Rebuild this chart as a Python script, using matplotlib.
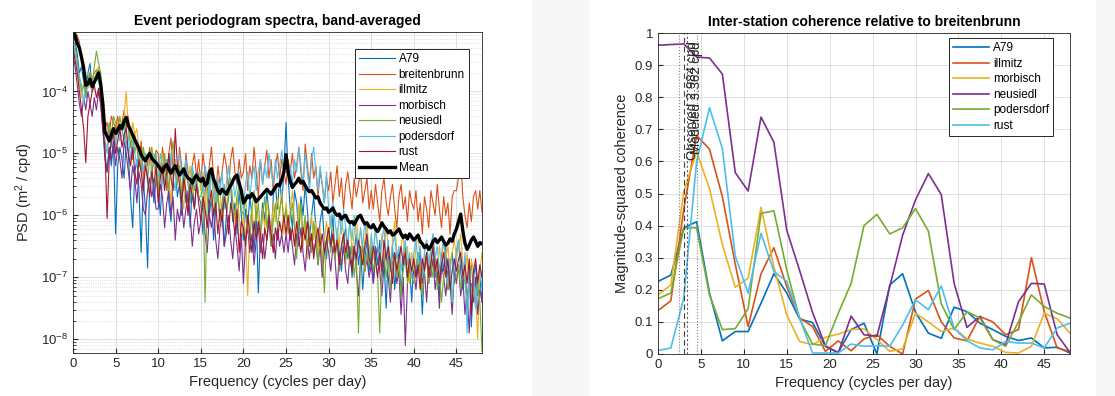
import numpy as np
import matplotlib.pyplot as plt
from matplotlib.patches import Rectangle
from matplotlib.ticker import FixedLocator, LogLocator, NullFormatter

plt.rcParams['font.family'] = ['Liberation Sans', 'DejaVu Sans']
plt.rcParams['mathtext.default'] = 'regular'

# ---- left panel: band-averaged periodogram spectra (log10 PSD, every 0.25 cpd) ----
psd_freq = np.arange(193) * 0.25

a79_log = [
    -3.05, -3.20, -3.40, -3.70, -3.60, -3.85, -4.10, -3.70, -3.55, -4.00, -3.90, -3.75, -3.65, -4.10, -4.60, -5.10, -5.30, -4.90, -5.20, -4.80,
    -6.30, -5.20, -4.90, -5.10, -5.40, -4.80, -5.00, -5.70, -6.20, -5.30, -5.10, -5.60, -6.60, -5.40, -5.90, -6.85, -5.50, -5.20, -5.80, -5.40,
    -5.60, -6.00, -5.30, -5.50, -5.10, -5.80, -6.10, -5.40, -5.20, -5.70, -5.50, -6.00, -5.30, -5.80, -5.60, -6.20, -5.50, -5.90, -5.40, -5.70,
    -5.80, -6.30, -5.60, -5.40, -6.00, -5.70, -6.40, -5.90, -5.60, -6.10, -5.80, -6.50, -6.00, -5.70, -5.50, -6.10, -5.80, -6.30, -5.60, -6.00,
    -6.40, -5.90, -6.20, -5.70, -6.00, -6.60, -5.90, -7.25, -6.30, -5.80, -6.10, -5.60, -6.00, -6.40, -5.70, -5.50, -5.90, -5.40, -5.80, -5.30,
    -4.50, -5.40, -5.90, -6.20, -5.60, -5.80, -6.30, -5.70, -6.00, -5.50, -5.90, -6.40, -6.00, -5.70, -6.20, -6.50, -6.10, -5.90, -6.40, -6.70,
    -6.20, -6.50, -6.00, -6.70, -6.30, -6.60, -6.90, -6.40, -6.20, -6.70, -6.50, -7.00, -6.60, -6.30, -6.80, -6.50, -7.20, -6.70, -6.40, -6.90,
    -6.60, -7.10, -6.50, -6.80, -6.40, -7.00, -6.70, -7.50, -6.60, -6.90, -6.50, -7.20, -6.80, -6.60, -7.30, -6.70, -6.50, -7.00, -6.80, -7.40,
    -6.70, -7.00, -6.60, -6.90, -7.60, -6.80, -6.60, -7.10, -6.70, -6.50, -7.00, -6.80, -7.30, -6.60, -6.90, -6.50, -7.20, -6.80, -6.60, -7.10,
    -6.60, -6.40, -6.90, -7.20, -6.70, -7.50, -6.90, -7.80, -7.00, -6.80, -7.30, -7.00, -7.40]
breitenbrunn_log = [
    -3.00, -3.05, -3.10, -3.20, -3.50, -3.70, -4.00, -3.90, -3.70, -3.80, -3.70, -3.65, -3.75, -3.90, -4.30, -4.60, -4.50, -4.70, -4.40, -4.50,
    -4.60, -4.40, -4.70, -4.50, -4.30, -4.60, -4.40, -4.80, -5.10, -4.70, -4.90, -5.20, -4.80, -5.40, -5.00, -5.20, -4.90, -5.30, -5.10, -4.95,
    -5.00, -5.40, -4.90, -5.20, -5.60, -5.00, -4.75, -5.30, -5.10, -5.50, -4.90, -5.20, -5.60, -5.00, -5.30, -5.70, -5.20, -5.00, -5.40, -5.10,
    -5.50, -5.00, -5.30, -5.60, -5.20, -4.90, -5.40, -5.70, -5.20, -5.50, -5.30, -5.00, -5.20, -5.60, -5.10, -4.90, -5.30, -5.50, -5.10, -5.40,
    -5.30, -5.00, -5.60, -5.20, -5.40, -4.90, -5.30, -5.70, -5.10, -5.50, -5.20, -4.95, -5.40, -5.10, -5.60, -5.20, -5.00, -5.40, -5.10, -5.30,
    -5.50, -5.10, -5.30, -5.00, -5.40, -5.20, -4.90, -5.30, -5.60, -4.85, -5.20, -5.50, -5.00, -5.40, -5.20, -5.70, -5.30, -5.50, -5.80, -5.40,
    -5.60, -5.30, -5.80, -5.50, -5.20, -5.70, -5.40, -5.90, -5.50, -5.30, -5.60, -5.90, -5.40, -5.70, -5.50, -5.30, -5.80, -5.60, -5.40, -5.90,
    -5.60, -5.90, -5.50, -5.80, -6.10, -5.60, -5.40, -5.80, -6.00, -5.70, -5.50, -5.90, -6.20, -5.70, -5.50, -5.90, -5.70, -6.10, -5.60, -5.80,
    -5.90, -5.60, -6.10, -5.80, -6.30, -5.70, -5.90, -6.20, -5.60, -5.80, -6.00, -5.50, -5.90, -6.20, -5.70, -6.00, -5.80, -6.30, -5.70, -5.60,
    -5.60, -5.40, -5.10, -5.70, -6.00, -6.20, -5.80, -6.10, -5.70, -5.60, -5.90, -5.60, -5.95]
illmitz_log = [
    -3.25, -3.40, -3.60, -3.90, -4.10, -3.85, -3.70, -3.95, -3.90, -3.75, -3.80, -3.70, -3.60, -3.85, -4.30, -4.80, -4.90, -4.70, -4.80, -4.60,
    -4.80, -4.50, -4.70, -4.55, -4.40, -4.00, -4.60, -4.80, -4.50, -4.70, -4.60, -5.00, -5.20, -4.90, -5.10, -5.30, -5.60, -5.00, -5.20, -5.40,
    -5.70, -5.20, -5.00, -5.40, -5.10, -5.30, -5.80, -5.30, -5.10, -5.50, -5.20, -5.60, -5.90, -5.30, -5.50, -5.20, -5.70, -5.40, -5.60, -5.30,
    -5.60, -5.30, -5.90, -5.50, -5.40, -5.70, -6.00, -5.60, -5.80, -5.50, -6.20, -5.70, -5.90, -5.60, -5.40, -5.80, -6.10, -5.70, -6.00, -6.40,
    -6.00, -6.30, -7.30, -6.10, -5.90, -6.30, -5.80, -6.10, -6.40, -5.90, -6.20, -5.80, -6.00, -6.40, -5.80, -6.10, -5.70, -6.00, -5.60, -6.30,
    -5.80, -6.20, -5.90, -5.60, -6.10, -6.40, -5.80, -6.00, -6.50, -6.10, -6.70, -6.20, -6.00, -6.40, -6.10, -6.60, -6.20, -6.90, -6.40, -6.10,
    -6.40, -6.00, -6.30, -6.70, -6.20, -6.50, -6.00, -6.30, -6.80, -6.40, -6.10, -6.60, -6.30, -6.00, -6.50, -6.20, -6.70, -6.40, -6.10, -6.60,
    -6.40, -6.70, -6.20, -6.50, -6.90, -6.30, -6.60, -6.20, -6.50, -6.80, -6.40, -6.10, -6.60, -7.00, -6.50, -6.30, -6.80, -6.50, -7.10, -6.60,
    -6.90, -6.50, -6.30, -6.80, -7.20, -6.60, -6.40, -6.90, -6.60, -6.30, -6.70, -7.00, -6.50, -6.80, -6.40, -6.70, -6.50, -6.90, -6.60, -6.40,
    -6.70, -6.50, -6.30, -6.80, -7.00, -6.60, -7.20, -6.70, -6.90, -7.30, -8.00, -6.90, -6.60]
morbisch_log = [
    -3.40, -3.60, -3.90, -4.20, -4.40, -4.10, -4.30, -4.00, -4.20, -4.40, -4.10, -4.30, -4.00, -4.20, -4.60, -5.00, -5.30, -4.90, -5.10, -4.80,
    -5.20, -4.90, -5.10, -5.40, -4.80, -5.00, -5.30, -5.60, -5.20, -5.40, -5.80, -5.30, -5.50, -5.90, -6.00, -5.60, -5.40, -5.70, -5.50, -5.90,
    -5.90, -5.50, -5.70, -6.20, -5.80, -5.60, -6.00, -5.70, -6.40, -5.90, -6.10, -5.80, -6.20, -5.90, -5.70, -6.00, -6.50, -6.10, -5.90, -6.30,
    -6.10, -5.80, -6.30, -6.60, -6.00, -6.20, -5.90, -6.40, -6.70, -6.20, -6.00, -6.50, -6.30, -6.00, -6.40, -6.70, -6.20, -6.50, -6.90, -6.30,
    -7.10, -6.40, -6.20, -6.60, -6.30, -6.80, -6.40, -6.20, -6.60, -6.30, -6.70, -6.40, -6.10, -6.50, -6.30, -6.70, -6.20, -6.50, -6.30, -6.60,
    -6.30, -6.60, -6.20, -6.50, -6.80, -6.30, -6.50, -6.20, -6.60, -6.90, -6.40, -6.70, -6.30, -6.60, -6.40, -6.80, -6.50, -7.00, -6.60, -6.40,
    -6.60, -6.90, -6.50, -6.70, -7.20, -6.60, -6.80, -6.50, -6.90, -7.10, -6.60, -6.80, -6.50, -6.90, -7.30, -6.70, -6.50, -6.90, -6.70, -7.00,
    -6.80, -7.10, -6.70, -6.50, -6.90, -7.30, -6.80, -6.60, -7.00, -7.40, -6.80, -6.60, -7.10, -6.90, -7.60, -7.00, -8.10, -7.10, -6.80, -7.00,
    -6.90, -7.20, -6.80, -6.60, -7.10, -6.90, -7.40, -6.80, -7.00, -6.70, -7.20, -6.90, -7.50, -6.80, -7.00, -7.30, -6.90, -7.10, -7.60, -6.90,
    -7.10, -6.80, -7.30, -7.00, -7.60, -7.20, -7.90, -7.10, -7.40, -7.00, -7.60, -7.20, -7.40]
neusiedl_log = [
    -3.20, -3.30, -3.50, -3.80, -4.00, -3.90, -4.10, -3.80, -3.70, -3.90, -3.60, -3.35, -3.55, -3.70, -4.20, -4.60, -4.75, -4.50, -4.70, -4.40,
    -4.50, -4.70, -4.40, -4.60, -4.80, -4.45, -4.60, -4.90, -4.70, -5.00, -4.80, -5.10, -5.30, -4.90, -5.20, -5.40, -5.10, -4.90, -5.20, -5.00,
    -5.60, -5.20, -5.40, -5.00, -5.30, -5.60, -5.10, -4.80, -5.30, -5.50, -5.20, -5.70, -5.40, -5.10, -5.50, -5.80, -5.30, -5.60, -5.40, -5.70,
    -5.70, -5.50, -7.40, -5.80, -5.50, -5.30, -5.70, -5.90, -5.60, -6.10, -5.80, -5.50, -5.90, -5.70, -5.40, -5.80, -6.00, -5.70, -5.50, -5.90,
    -6.00, -5.70, -6.20, -6.40, -5.90, -5.60, -6.10, -5.80, -6.30, -6.00, -5.70, -6.20, -5.90, -6.50, -6.10, -5.80, -6.20, -5.90, -5.70, -6.10,
    -5.90, -6.30, -6.00, -5.80, -6.20, -6.70, -6.10, -5.80, -6.30, -6.00, -6.50, -6.20, -6.60, -6.10, -6.40, -6.80, -6.30, -6.60, -7.25, -6.40,
    -6.20, -6.60, -6.30, -6.70, -6.40, -6.90, -6.50, -6.30, -6.70, -6.40, -6.80, -6.50, -7.00, -6.60, -7.90, -6.70, -6.50, -6.90, -6.60, -6.80,
    -6.50, -6.90, -6.70, -7.00, -7.90, -6.80, -6.60, -7.00, -6.70, -7.20, -6.80, -6.60, -7.00, -6.80, -7.30, -6.90, -6.70, -7.10, -6.80, -7.00,
    -7.10, -6.80, -6.60, -7.00, -7.30, -6.90, -6.70, -7.10, -6.80, -7.00, -6.60, -7.20, -6.90, -7.40, -7.00, -6.80, -7.20, -6.90, -7.40, -7.00,
    -7.00, -6.80, -7.20, -6.90, -7.10, -7.40, -7.00, -6.80, -7.20, -7.50, -7.10, -7.40, -8.20]
podersdorf_log = [
    -3.20, -3.40, -3.60, -3.75, -3.90, -4.20, -3.80, -3.70, -3.90, -4.00, -3.80, -3.70, -3.85, -4.00, -4.40, -4.80, -5.00, -4.70, -4.90, -4.60,
    -4.90, -4.60, -4.80, -4.70, -4.50, -4.90, -4.70, -5.10, -4.80, -5.00, -5.20, -4.90, -5.10, -5.30, -5.00, -5.50, -5.60, -5.20, -5.00, -5.30,
    -5.40, -5.00, -5.20, -5.50, -5.10, -5.30, -5.00, -5.40, -5.60, -5.20, -5.00, -5.30, -5.50, -5.10, -5.40, -5.70, -5.20, -5.40, -5.60, -5.30,
    -5.30, -5.60, -5.20, -5.40, -5.70, -5.30, -5.50, -5.80, -5.40, -5.60, -5.30, -5.90, -5.50, -5.20, -5.60, -5.40, -5.70, -5.50, -5.30, -5.70,
    -5.90, -5.50, -5.30, -5.70, -5.40, -5.20, -5.60, -5.30, -5.10, -5.50, -5.20, -5.40, -5.00, -5.30, -5.50, -5.10, -5.40, -5.20, -4.95, -5.30,
    -5.00, -5.40, -5.20, -5.50, -5.10, -5.30, -4.90, -5.20, -5.50, -5.00, -5.30, -5.60, -5.10, -4.90, -5.30, -5.60, -5.20, -5.50, -5.80, -5.30,
    -5.90, -6.20, -5.80, -6.10, -6.40, -6.00, -6.30, -5.90, -6.20, -6.50, -6.10, -6.40, -6.00, -6.30, -6.60, -6.20, -6.50, -6.10, -6.40, -6.70,
    -6.30, -6.60, -6.20, -6.50, -6.80, -6.40, -6.20, -6.70, -6.40, -6.90, -6.50, -6.30, -6.70, -6.50, -6.90, -6.60, -6.40, -6.80, -6.60, -7.00,
    -6.60, -6.40, -6.80, -6.50, -7.00, -6.60, -6.40, -6.80, -6.50, -6.30, -6.70, -6.50, -6.90, -6.60, -6.40, -6.80, -7.10, -6.70, -7.40, -6.80,
    -6.60, -6.40, -6.70, -7.00, -6.60, -7.90, -6.80, -7.30, -6.90, -7.50, -7.00, -6.80, -7.20]
rust_log = [
    -3.30, -3.50, -3.70, -4.00, -4.30, -4.60, -5.15, -4.40, -4.20, -4.00, -3.90, -4.10, -3.95, -4.20, -4.60, -4.90, -6.05, -5.10, -4.80, -4.70,
    -5.00, -4.80, -4.60, -4.90, -4.70, -4.60, -5.00, -5.20, -4.90, -5.30, -5.50, -5.10, -5.30, -5.60, -5.20, -5.40, -5.70, -5.30, -5.50, -5.20,
    -5.80, -5.40, -5.20, -5.60, -5.30, -5.00, -5.40, -5.60, -4.60, -5.20, -5.50, -5.80, -5.40, -5.60, -6.00, -5.50, -5.70, -5.90, -5.50, -5.80,
    -6.10, -5.70, -5.90, -6.20, -5.80, -5.60, -6.00, -5.80, -6.30, -5.90, -6.10, -5.70, -5.90, -6.30, -5.80, -6.00, -6.30, -5.90, -6.60, -6.10,
    -6.20, -6.50, -6.00, -6.30, -6.60, -6.10, -6.40, -6.10, -6.30, -6.70, -6.20, -6.40, -6.00, -6.30, -6.60, -6.20, -6.40, -6.10, -6.30, -6.00,
    -6.30, -6.00, -6.40, -6.20, -6.50, -6.10, -6.40, -6.60, -6.20, -6.40, -6.10, -6.50, -6.30, -6.70, -6.40, -6.20, -6.50, -6.30, -6.60, -6.40,
    -6.20, -6.50, -6.30, -6.60, -6.40, -6.80, -6.50, -6.30, -6.60, -6.40, -6.70, -6.90, -6.50, -6.70, -6.40, -6.60, -6.80, -6.50, -6.30, -6.70,
    -6.80, -6.50, -6.70, -7.00, -6.60, -6.90, -6.40, -6.70, -6.50, -6.80, -7.10, -6.60, -6.90, -6.70, -6.50, -6.80, -6.60, -7.00, -6.70, -6.90,
    -6.70, -7.00, -6.80, -7.20, -6.70, -6.90, -6.60, -7.00, -6.80, -6.50, -6.90, -6.70, -7.10, -6.80, -6.60, -7.00, -6.70, -7.20, -6.90, -6.70,
    -6.90, -6.70, -6.60, -7.00, -6.80, -7.10, -6.70, -7.60, -6.90, -6.70, -7.10, -6.80, -7.00]
mean_log = [
    -3.04, -3.10, -3.22, -3.30, -3.45, -3.62, -3.90, -3.88, -3.80, -3.92, -3.85, -3.78, -3.70, -3.88, -4.20, -4.65, -4.72, -4.80, -4.70, -4.60,
    -4.68, -4.62, -4.55, -4.60, -4.48, -4.42, -4.55, -4.62, -4.70, -4.78, -4.85, -4.92, -5.02, -5.08, -5.12, -5.05, -5.00, -5.08, -5.12, -5.15,
    -5.20, -5.25, -5.30, -5.22, -5.18, -5.26, -5.32, -5.25, -5.20, -5.28, -5.35, -5.30, -5.25, -5.35, -5.40, -5.42, -5.48, -5.40, -5.35, -5.42,
    -5.45, -5.40, -5.52, -5.48, -5.30, -5.25, -5.42, -5.50, -5.60, -5.65, -5.58, -5.62, -5.66, -5.58, -5.52, -5.45, -5.38, -5.35, -5.48, -5.60,
    -5.80, -5.75, -5.68, -5.72, -5.65, -5.70, -5.78, -5.74, -5.70, -5.66, -5.62, -5.58, -5.62, -5.66, -5.60, -5.55, -5.50, -5.52, -5.42, -5.30,
    -5.02, -5.30, -5.45, -5.55, -5.50, -5.46, -5.40, -5.48, -5.45, -5.52, -5.58, -5.62, -5.60, -5.66, -5.72, -5.70, -5.80, -5.85, -5.90, -5.88,
    -5.95, -5.92, -5.88, -5.96, -6.00, -5.98, -6.06, -6.02, -6.00, -6.08, -6.12, -6.10, -6.15, -6.08, -6.02, -6.00, -6.08, -6.14, -6.12, -6.18,
    -6.20, -6.15, -6.22, -6.26, -6.20, -6.12, -6.18, -6.22, -6.28, -6.25, -6.32, -6.30, -6.26, -6.22, -6.30, -6.36, -6.32, -6.38, -6.30, -6.35,
    -6.40, -6.36, -6.32, -6.42, -6.46, -6.52, -6.48, -6.55, -6.50, -6.42, -6.38, -6.44, -6.40, -6.35, -6.42, -6.48, -6.45, -6.38, -6.42, -6.30,
    -6.22, -6.10, -5.98, -6.25, -6.45, -6.55, -6.48, -6.40, -6.35, -6.42, -6.50, -6.44, -6.46]

psd_names = ['A79', 'breitenbrunn', 'illmitz', 'morbisch', 'neusiedl', 'podersdorf', 'rust']
psd_series = [a79_log, breitenbrunn_log, illmitz_log, morbisch_log,
              neusiedl_log, podersdorf_log, rust_log]

# ---- right panel: coherence vs breitenbrunn (every 1.5 cpd) ----
coh_freq = [0, 1.5, 3, 4.5, 6, 7.5, 9, 10.5, 12, 13.5, 15, 16.5, 18, 19.5, 21, 22.5,
            24, 25.5, 27, 28.5, 30, 31.5, 33, 34.5, 36, 37.5, 39, 40.5, 42, 43.5,
            45, 46.5, 48]
coh_a79 = [0.226, 0.246, 0.393, 0.412, 0.19, 0.041, 0.070, 0.070, 0.158, 0.25, 0.19,
           0.109, 0.098, 0.024, 0.005, 0.076, 0.096, 0.0, 0.215, 0.25, 0.13, 0.065,
           0.049, 0.146, 0.132, 0.096, 0.076, 0.055, 0.042, 0.05, 0.019, 0.021, 0.003]
coh_illmitz = [0.135, 0.166, 0.45, 0.681, 0.638, 0.49, 0.28, 0.085, 0.25, 0.331, 0.21,
               0.112, 0.086, 0.008, 0.041, 0.01, 0.047, 0.06, 0.024, 0.0, 0.171, 0.198,
               0.10, 0.05, 0.041, 0.117, 0.10, 0.06, 0.076, 0.30, 0.132, 0.019, 0.008]
coh_morbisch = [0.184, 0.215, 0.505, 0.63, 0.515, 0.34, 0.208, 0.236, 0.457, 0.272,
                0.122, 0.039, 0.029, 0.052, 0.062, 0.076, 0.078, 0.045, 0.008, 0.016,
                0.127, 0.10, 0.07, 0.081, 0.047, 0.034, 0.024, 0.005, 0.003, 0.024,
                0.127, 0.11, 0.065]
coh_neusiedl = [0.962, 0.964, 0.966, 0.925, 0.922, 0.872, 0.565, 0.508, 0.738, 0.660,
                0.386, 0.26, 0.13, 0.025, 0.003, 0.118, 0.06, 0.055, 0.21, 0.37, 0.48,
                0.562, 0.497, 0.22, 0.083, 0.117, 0.045, 0.029, 0.163, 0.22, 0.218,
                0.06, 0.005]
coh_podersdorf = [0.172, 0.19, 0.393, 0.393, 0.184, 0.076, 0.079, 0.141, 0.438, 0.446,
                  0.262, 0.109, 0.031, 0.026, 0.127, 0.22, 0.40, 0.435, 0.374, 0.393,
                  0.453, 0.383, 0.156, 0.076, 0.132, 0.112, 0.045, 0.024, 0.10, 0.184,
                  0.148, 0.127, 0.112]
coh_rust = [0.011, 0.019, 0.174, 0.60, 0.767, 0.64, 0.305, 0.19, 0.376, 0.257, 0.226,
            0.112, 0.003, 0.003, 0.003, 0.031, 0.024, 0.026, 0.024, 0.09, 0.169, 0.138,
            0.212, 0.081, 0.041, 0.019, 0.013, 0.039, 0.034, 0.034, 0.019, 0.081, 0.096]
coh_names = ['A79', 'illmitz', 'morbisch', 'neusiedl', 'podersdorf', 'rust']
coh_series = [coh_a79, coh_illmitz, coh_morbisch, coh_neusiedl, coh_podersdorf, coh_rust]

observed_cpd = 2.984
modeled_cpd = 3.362
band_lines = [2.5, 4.6]

colors = ['#0072BD', '#D95319', '#EDB120', '#7E2F8E', '#77AC30', '#4DBEEE', '#A2142F']
ink = '#262626'

fig = plt.figure(figsize=(11.15, 3.96), dpi=100, facecolor='#f7f7f7')
# white panels behind each plot
fig.patches.append(Rectangle((0, 0), 532 / 1115, 1, transform=fig.transFigure,
                             facecolor='white', edgecolor='none', zorder=-5))
fig.patches.append(Rectangle((589 / 1115, 0), 507 / 1115, 1, transform=fig.transFigure,
                             facecolor='white', edgecolor='none', zorder=-5))

ax1 = fig.add_axes([73 / 1115, 1 - 353 / 396, 409 / 1115, 321 / 396])
ax2 = fig.add_axes([658 / 1115, 1 - 354 / 396, 412 / 1115, 321 / 396])


def style_axes(ax):
    ax.tick_params(which='both', direction='in', colors=ink, labelsize=9.5)
    ax.tick_params(which='major', length=3.5)
    ax.tick_params(which='minor', length=2)
    for s in ax.spines.values():
        s.set_color(ink)
        s.set_linewidth(0.6)
    ax.grid(True, which='major', color='#dedede', linewidth=0.7)
    ax.set_axisbelow(True)


def style_legend(leg):
    leg.get_frame().set_edgecolor(ink)
    leg.get_frame().set_linewidth(0.7)


legend_kw = dict(loc='upper right', borderaxespad=0, fontsize=8.5, handlelength=3.0,
                 labelspacing=0.3, handletextpad=0.35, borderpad=0.35,
                 fancybox=False, framealpha=1)

# left panel
for name, vals, c in zip(psd_names, psd_series, colors):
    ax1.plot(psd_freq, 10 ** np.array(vals), color=c, lw=0.8, label=name)
ax1.plot(psd_freq, 10 ** np.array(mean_log), color='black', lw=2.4, label='Mean')
ax1.set_yscale('log')
ax1.set_xlim(0, 48)
ax1.set_ylim(6e-9, 9.1e-4)
ax1.xaxis.set_major_locator(FixedLocator(range(0, 50, 5)))
ax1.yaxis.set_major_locator(FixedLocator([1e-8, 1e-7, 1e-6, 1e-5, 1e-4]))
ax1.yaxis.set_minor_locator(LogLocator(base=10, subs=np.arange(2, 10)))
ax1.yaxis.set_minor_formatter(NullFormatter())
style_axes(ax1)
ax1.grid(True, which='minor', axis='y', color='#d4d4d4', linestyle=':', linewidth=0.6)
ax1.set_title('Event periodogram spectra, band-averaged', fontsize=10, fontweight='bold',
              color='black', pad=5)
ax1.set_xlabel('Frequency (cycles per day)', fontsize=10.5, color=ink)
ax1.set_ylabel('PSD (m$^2$ / cpd)', fontsize=10.5, color=ink)
style_legend(ax1.legend(bbox_to_anchor=(0.968, 0.947), **legend_kw))

# right panel
for name, vals, c in zip(coh_names, coh_series, colors):
    ax2.plot(coh_freq, vals, color=c, lw=1.2, label=name)
for x in band_lines:
    ax2.axvline(x, color='#7f7f7f', linestyle=':', linewidth=0.8)
ax2.axvline(observed_cpd, color='#404040', linestyle=(0, (5, 3)), linewidth=0.8)
ax2.axvline(modeled_cpd, color='#606060', linestyle=(0, (2, 2)), linewidth=0.8)
ax2.text(observed_cpd + 0.45, 0.975, 'Observed %.3f cpd' % observed_cpd, rotation=90,
         ha='left', va='top', fontsize=9.5, color=ink)
ax2.text(modeled_cpd + 0.45, 0.975, 'Modeled %.3f cpd' % modeled_cpd, rotation=90,
         ha='left', va='top', fontsize=9.5, color=ink)
ax2.set_xlim(0, 48)
ax2.set_ylim(0, 1)
ax2.xaxis.set_major_locator(FixedLocator(range(0, 50, 5)))
ax2.yaxis.set_major_locator(FixedLocator(np.arange(11) / 10))
ax2.set_yticklabels(['0', '0.1', '0.2', '0.3', '0.4', '0.5', '0.6', '0.7', '0.8', '0.9', '1'])
style_axes(ax2)
ax2.set_title('Inter-station coherence relative to breitenbrunn', fontsize=10,
              fontweight='bold', color='black', pad=5)
ax2.set_xlabel('Frequency (cycles per day)', fontsize=10.5, color=ink)
ax2.set_ylabel('Magnitude-squared coherence', fontsize=10.5, color=ink)
style_legend(ax2.legend(bbox_to_anchor=(0.959, 0.984), **legend_kw))

fig.savefig('out.png', dpi=100, facecolor=fig.get_facecolor())
